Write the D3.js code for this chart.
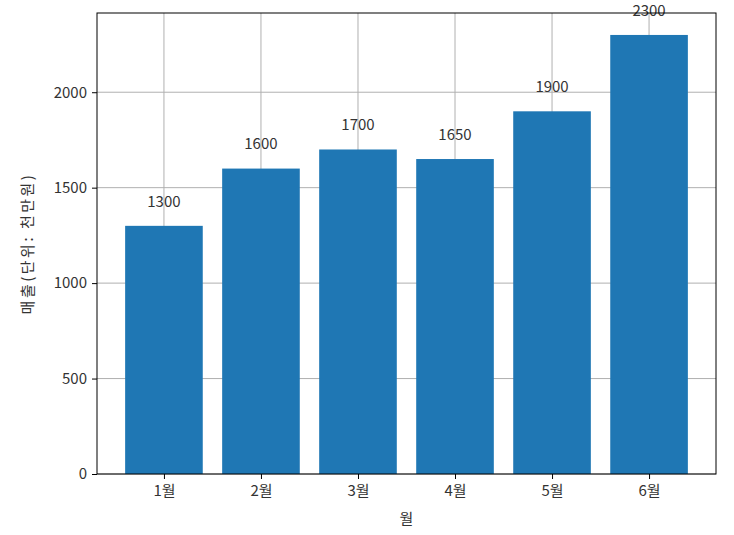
<!DOCTYPE html>
<html>
<head>
<meta charset="utf-8">
<script src="https://cdn.jsdelivr.net/npm/d3@7"></script>
<style>
  body { margin: 0; background: #fff; }
  text { font-family: "Noto Sans CJK KR", "Noto Sans", sans-serif; fill: #333; }
</style>
</head>
<body>
<div id="chart"></div>
<script>
const months = ["1월", "2월", "3월", "4월", "5월", "6월"]
const sales = [1300, 1600, 1700, 1650, 1900, 2300]
const yTicks = [0, 500, 1000, 1500, 2000]

const width = 734
const height = 535
const margin = { top: 13, right: 18, bottom: 61, left: 97 }
const innerW = width - margin.left - margin.right
const innerH = height - margin.top - margin.bottom

const svg = d3.select("#chart")
  .append("svg")
  .attr("width", width)
  .attr("height", height)

const g = svg.append("g")
  .attr("transform", `translate(${margin.left},${margin.top})`)

// matplotlib-like limits: bars of width 0.8 plus 5% margins
const x = d3.scaleLinear()
  .domain([-0.69, months.length - 1 + 0.69])
  .range([0, innerW])

const y = d3.scaleLinear()
  .domain([0, d3.max(sales) * 1.05])
  .range([innerH, 0])

// grid
g.append("g")
  .selectAll("line")
  .data(yTicks)
  .join("line")
  .attr("x1", 0)
  .attr("x2", innerW)
  .attr("y1", d => y(d))
  .attr("y2", d => y(d))
  .attr("stroke", "#b0b0b0")
  .attr("stroke-width", 1)

g.append("g")
  .selectAll("line")
  .data(months)
  .join("line")
  .attr("x1", (d, i) => x(i))
  .attr("x2", (d, i) => x(i))
  .attr("y1", 0)
  .attr("y2", innerH)
  .attr("stroke", "#b0b0b0")
  .attr("stroke-width", 1)

// bars
g.append("g")
  .selectAll("rect")
  .data(sales)
  .join("rect")
  .attr("x", (d, i) => x(i - 0.4))
  .attr("width", x(0.4) - x(-0.4))
  .attr("y", d => y(d))
  .attr("height", d => innerH - y(d))
  .attr("fill", "#1f77b4")

// value labels
g.append("g")
  .selectAll("text")
  .data(sales)
  .join("text")
  .attr("x", (d, i) => x(i))
  .attr("y", d => y(d + 100))
  .attr("text-anchor", "middle")
  .attr("font-size", "15px")
  .text(d => d)

// axes
const yAxis = g.append("g")
  .call(d3.axisLeft(y).tickValues(yTicks).tickFormat(d3.format("d")).tickSize(5).tickPadding(5))
const xAxis = g.append("g")
  .attr("transform", `translate(0,${innerH})`)
  .call(d3.axisBottom(x).tickValues(d3.range(months.length)).tickFormat(i => months[i]).tickSize(5).tickPadding(6))

for (const ax of [yAxis, xAxis]) {
  ax.select(".domain").remove()
  ax.selectAll("line").attr("stroke", "#000")
  ax.selectAll("text").attr("font-size", "15px").attr("fill", "#333")
  ax.attr("font-family", null)
}

// frame
g.append("rect")
  .attr("width", innerW)
  .attr("height", innerH)
  .attr("fill", "none")
  .attr("stroke", "#000")
  .attr("stroke-width", 1)

// axis titles
svg.append("text")
  .attr("x", margin.left + innerW / 2)
  .attr("y", 524)
  .attr("text-anchor", "middle")
  .attr("font-size", "15px")
  .text("월")

svg.append("text")
  .attr("transform", `translate(33,${margin.top + innerH / 2}) rotate(-90)`)
  .attr("text-anchor", "middle")
  .attr("font-size", "15px")
  .attr("letter-spacing", "2.5px")
  .text("매출(단위: 천만원)")
</script>
</body>
</html>
